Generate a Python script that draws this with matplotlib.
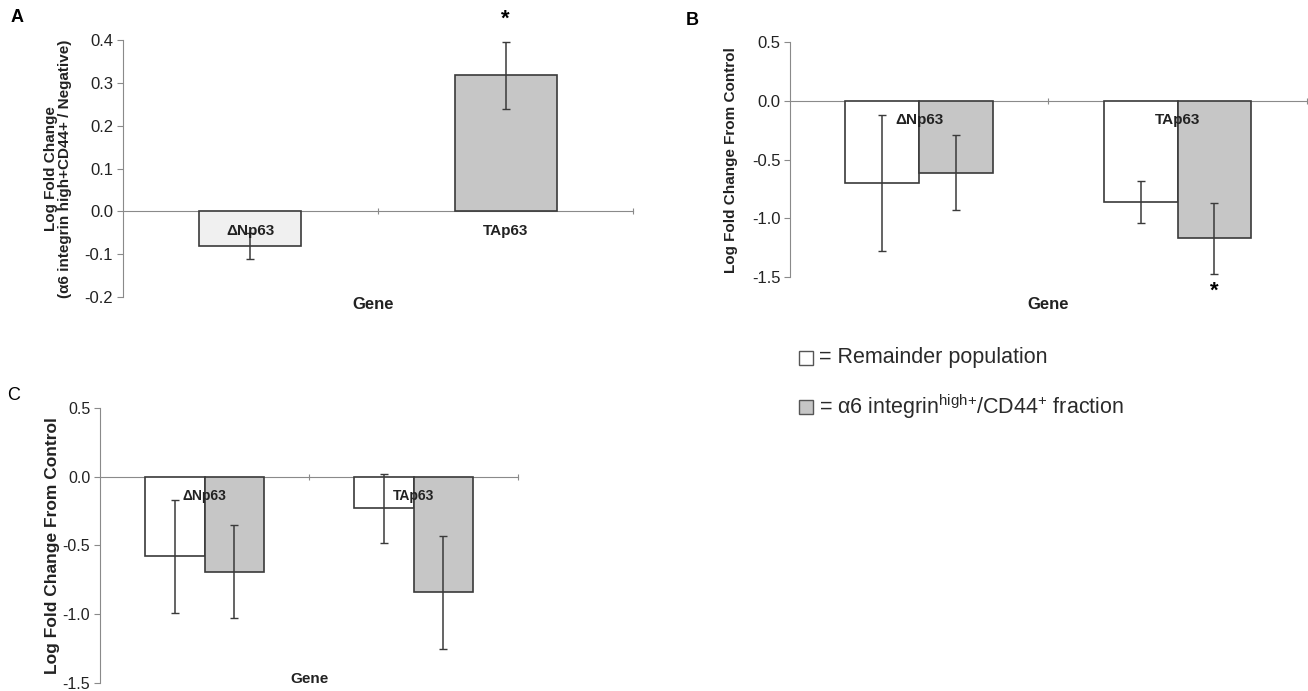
import numpy as np
import matplotlib.pyplot as plt
from matplotlib.patches import Rectangle

plt.rcParams['font.family'] = ['Liberation Sans', 'DejaVu Sans']
plt.rcParams['axes.unicode_minus'] = False

genes = ['\u0394Np63', 'TAp63']

# panel A: ratio high+/negative
a_vals = [-0.08, 0.318]
a_err = [0.03, 0.078]

# panel B
b_remainder = [-0.70, -0.86]
b_remainder_err = [0.58, 0.18]
b_fraction = [-0.61, -1.17]
b_fraction_err = [0.32, 0.30]

# panel C
c_remainder = [-0.58, -0.23]
c_remainder_err = [0.41, 0.25]
c_fraction = [-0.69, -0.84]
c_fraction_err = [0.34, 0.41]

edge = '#3a3a3a'
gray = '#c6c6c6'
axis_gray = '#8a8a8a'

fig = plt.figure(figsize=(13.08, 6.91), dpi=100)


def style_axes(ax, ylim, yticks, fs):
    ax.set_xlim(-0.5, 1.5)
    ax.set_ylim(*ylim)
    ax.set_yticks(yticks)
    ax.set_yticklabels(['%.1f' % t for t in yticks], fontsize=fs, color='#222222')
    ax.spines['top'].set_visible(False)
    ax.spines['right'].set_visible(False)
    ax.spines['left'].set_color(axis_gray)
    ax.spines['bottom'].set_color(axis_gray)
    ax.spines['bottom'].set_position(('data', 0))
    ax.spines['bottom'].set_zorder(0)
    ax.set_xticks([0.5, 1.5])
    ax.set_xticklabels([])
    ax.tick_params(axis='x', length=4, direction='inout', color=axis_gray)
    ax.tick_params(axis='y', length=4, direction='out', color=axis_gray, pad=3)


def gene_labels(ax, fs):
    for i, g in enumerate(genes):
        ax.annotate(g, (i, 0), xytext=(0, -14), textcoords='offset points',
                    ha='center', va='center', fontsize=fs, fontweight='bold',
                    color='#222222', zorder=5)


# ---- A ----
axA = fig.add_axes([0.094, 0.570, 0.390, 0.372])
x = np.arange(len(genes))
axA.bar(x, a_vals, width=0.4, color=['#f0f0f0', gray], edgecolor=edge, linewidth=1.2, zorder=2)
axA.errorbar(x, a_vals, yerr=a_err, fmt='none', ecolor=edge, elinewidth=1.1, capsize=3, zorder=3)
style_axes(axA, (-0.2, 0.4), np.round(np.arange(-0.2, 0.41, 0.1), 1), 12)
axA.set_ylabel('Log Fold Change\n(\u03b16 integrin high+CD44+ / Negative)', fontsize=11,
               fontweight='bold', color='#222222', labelpad=9, linespacing=1.05)
gene_labels(axA, 11)
axA.annotate('*', (1, a_vals[1] + a_err[1]), xytext=(0, 16), textcoords='offset points',
             ha='center', va='center', fontsize=16, fontweight='bold')
axA.text(0.49, -0.03, 'Gene', transform=axA.transAxes, ha='center', va='center',
         fontsize=12, fontweight='bold', color='#222222')

# ---- B ----
w = 0.286
axB = fig.add_axes([0.604, 0.599, 0.395, 0.340])
axB.bar(x - w / 2, b_remainder, width=w, color='white', edgecolor=edge, linewidth=1.2, zorder=2)
axB.bar(x + w / 2, b_fraction, width=w, color=gray, edgecolor=edge, linewidth=1.2, zorder=2)
axB.errorbar(x - w / 2, b_remainder, yerr=b_remainder_err, fmt='none', ecolor=edge,
             elinewidth=1.1, capsize=3, zorder=3)
axB.errorbar(x + w / 2, b_fraction, yerr=b_fraction_err, fmt='none', ecolor=edge,
             elinewidth=1.1, capsize=3, zorder=3)
style_axes(axB, (-1.5, 0.5), [0.5, 0.0, -0.5, -1.0, -1.5], 12)
axB.set_ylabel('Log Fold Change From Control', fontsize=11, fontweight='bold',
               color='#222222', labelpad=10)
gene_labels(axB, 11)
axB.annotate('*', (1 + w / 2, b_fraction[1] - b_fraction_err[1]), xytext=(0, -13),
             textcoords='offset points', ha='center', va='center', fontsize=16, fontweight='bold')
axB.text(0.5, -0.115, 'Gene', transform=axB.transAxes, ha='center', va='center',
         fontsize=12, fontweight='bold', color='#222222')

# ---- C ----
axC = fig.add_axes([0.0765, 0.0116, 0.3196, 0.398])
axC.bar(x - w / 2, c_remainder, width=w, color='white', edgecolor=edge, linewidth=1.2, zorder=2)
axC.bar(x + w / 2, c_fraction, width=w, color=gray, edgecolor=edge, linewidth=1.2, zorder=2)
axC.errorbar(x - w / 2, c_remainder, yerr=c_remainder_err, fmt='none', ecolor=edge,
             elinewidth=1.1, capsize=3, zorder=3)
axC.errorbar(x + w / 2, c_fraction, yerr=c_fraction_err, fmt='none', ecolor=edge,
             elinewidth=1.1, capsize=3, zorder=3)
style_axes(axC, (-1.5, 0.5), [0.5, 0.0, -0.5, -1.0, -1.5], 11.5)
axC.set_ylabel('Log Fold Change From Control', fontsize=12.5, fontweight='bold',
               color='#222222', labelpad=2)
gene_labels(axC, 10)
axC.text(0.5, 0.015, 'Gene', transform=axC.transAxes, ha='center', va='center',
         fontsize=11, fontweight='bold', color='#222222')

# panel letters
fig.text(0.013, 0.974, 'A', fontsize=13, fontweight='bold', ha='center', va='center')
fig.text(0.529, 0.971, 'B', fontsize=13, fontweight='bold', ha='center', va='center')
fig.text(0.010, 0.428, 'C', fontsize=13, ha='center', va='center')

# legend
for yc, fc, lab in [(358, 'white', '= Remainder population'),
                    (407, gray, '= \u03b16 integrin$^{\\mathregular{high{+}}}$/CD44$^{\\mathregular{+}}$ fraction')]:
    fig.add_artist(Rectangle((799 / 1308, 1 - (yc + 7) / 691), 14 / 1308, 14 / 691,
                             transform=fig.transFigure, facecolor=fc, edgecolor='#555555',
                             linewidth=1))
    fig.text(819 / 1308, 1 - yc / 691, lab, fontsize=15.5, color='#2a2a2a', ha='left', va='center')

fig.savefig('out.png', dpi=100)
